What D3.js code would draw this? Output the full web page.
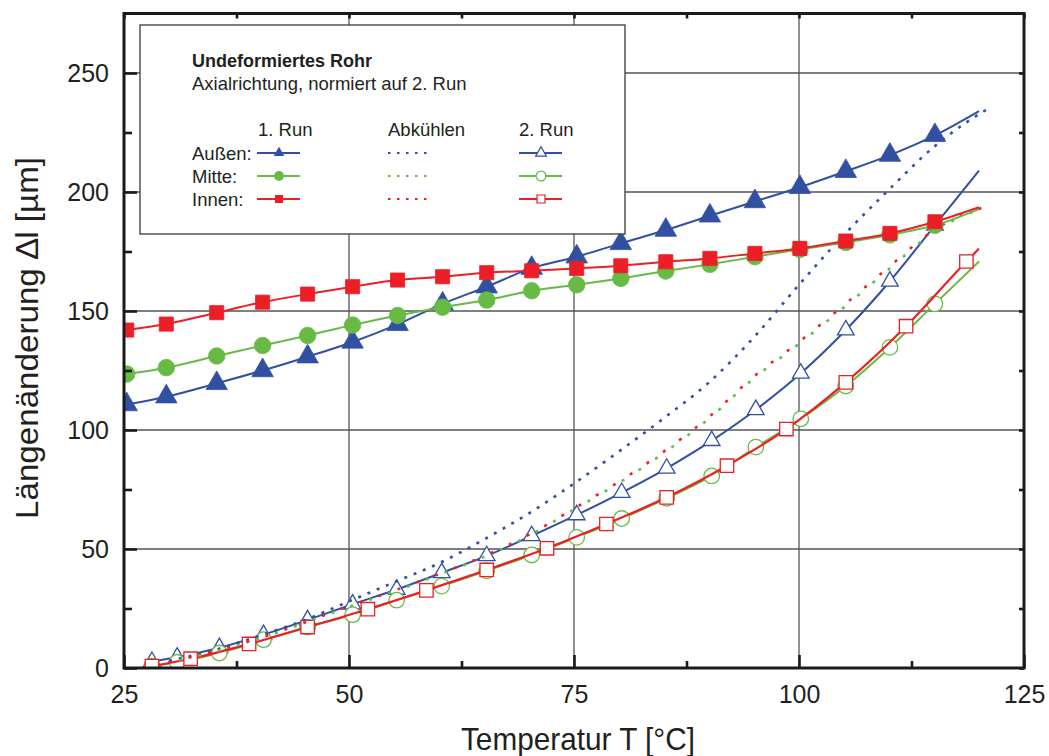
<!DOCTYPE html>
<html><head><meta charset="utf-8">
<script src="https://cdn.jsdelivr.net/npm/d3@7"></script>
<style>
body{margin:0;background:#fff}
svg{display:block}
text{font-family:"Liberation Sans",Arial,Helvetica,sans-serif;fill:#231f20}
</style>
</head><body>
<svg id="chart" width="1049" height="756"></svg>
<script>
// ---------- data ----------
// 1. Run (heating), markers at these temperatures; last point = line end (no marker)
const run1Temp   = [25.3, 29.7, 35.3, 40.4, 45.4, 50.4, 55.4, 60.4, 65.3, 70.3, 75.3, 80.2, 85.2, 90.1, 95.1, 100.1, 105.2, 110.1, 115.1, 120];
const run1Aussen = [110.7, 114.0, 119.6, 125.0, 130.8, 137.0, 144.4, 153.0, 160.2, 168.0, 172.8, 178.4, 184.0, 190.0, 196.0, 202.0, 208.7, 215.5, 223.8, 234.0];
const run1Mitte  = [123.5, 126.2, 131.1, 135.5, 139.7, 144.1, 148.1, 151.6, 154.6, 158.5, 161.0, 163.7, 166.8, 169.6, 172.8, 175.9, 178.8, 182.0, 186.0, 192.8];
const run1Innen  = [142.0, 144.5, 149.3, 153.7, 157.1, 160.2, 163.0, 164.4, 166.1, 166.9, 167.9, 169.0, 170.7, 172.1, 174.2, 176.3, 179.4, 182.6, 187.5, 193.6];

// Abkühlen (cooling), dotted, no markers
const coolTemp   = [30, 35, 40, 45, 50, 55, 60, 65, 70, 75, 80, 85, 90, 95, 100, 105, 110, 115, 118.5, 121];
const coolAussen = [3.0, 7.5, 13.5, 20.0, 28.0, 36.0, 44.0, 54.0, 65.0, 77.5, 91.0, 105.0, 120.0, 139.0, 161.0, 182.0, 201.0, 219.0, 229.0, 235.0];
const coolMitte  = [2.3, 6.8, 12.3, 18.8, 25.7, 32.2, 39.2, 46.7, 55.6, 66.6, 77.8, 90.4, 104.8, 121.8, 136.2, 151.6, 167.6, 183.2, 190.4, 193.6];
const coolInnen  = [2.5, 7.0, 12.5, 19.0, 26.0, 32.5, 39.5, 47.0, 56.0, 67.0, 78.3, 91.0, 105.5, 122.5, 137.0, 152.5, 168.5, 184.0, 191.0, 194.0];

// 2. Run (Außen & Mitte share marker temperatures; last point = line end)
const run2Temp   = [28.1, 30.9, 35.6, 40.5, 45.4, 50.4, 55.3, 60.3, 65.3, 70.3, 75.3, 80.3, 85.3, 90.3, 95.2, 100.2, 105.2, 110.1, 115.1, 120];
const run2Aussen = [2.7, 4.5, 8.5, 14.0, 20.2, 26.8, 33.0, 40.0, 47.1, 55.5, 64.3, 73.7, 83.9, 95.5, 108.5, 123.8, 142.0, 162.5, 186.0, 209.0];
const run2Mitte  = [0.8, 2.4, 6.3, 11.9, 17.2, 22.4, 28.5, 34.4, 40.8, 47.5, 54.9, 62.8, 71.3, 80.7, 92.8, 104.7, 118.5, 134.7, 153.0, 170.8];
const run2InnenTemp = [28.1, 32.4, 38.9, 45.4, 52.1, 58.6, 65.3, 72.0, 78.6, 85.3, 92.0, 98.6, 105.2, 111.9, 118.6, 120];
const run2Innen     = [0.8, 3.9, 10.1, 17.2, 24.7, 32.6, 41.2, 50.3, 60.5, 71.7, 85.0, 100.4, 120.0, 143.6, 170.8, 176.2];

// axis ticks
const xMajorTicks = [25, 50, 75, 100, 125];
const xMinorTicks = [37.5, 62.5, 87.5, 112.5];
const yMajorTicks = [0, 50, 100, 150, 200, 250];
const yMinorTicks = [25, 75, 125, 175, 225];
const xGrid = [50, 75, 100];
const yGrid = [50, 100, 150, 200, 250];

// texts
const xTitle = "Temperatur T [°C]";
const yTitle = "Längenänderung \u2206l [\u00b5m]";
const legendTitle = "Undeformiertes Rohr";
const legendSub = "Axialrichtung, normiert auf 2. Run";
const legendCols = ["1. Run", "Abkühlen", "2. Run"];
const legendRows = ["Außen:", "Mitte:", "Innen:"];

// ---------- drawing ----------
const BLUE = "#3250a2", GREEN = "#67bb45", RED = "#ec1f26";
const svg = d3.select("#chart");
const L = 124, R = 1024, T = 13.5, B = 668;
const x = d3.scaleLinear().domain([25, 125]).range([L, R]);
const y = d3.scaleLinear().domain([0, 275]).range([B, T]);

svg.append("rect").attr("width", 1049).attr("height", 756).attr("fill", "#fff");

const defs = svg.append("defs");
defs.append("clipPath").attr("id", "clip").append("rect")
  .attr("x", L).attr("y", T).attr("width", R - L).attr("height", B - T);

// grid
const grid = svg.append("g").attr("stroke", "#555").attr("stroke-width", 1.3);
grid.selectAll(".gx").data(xGrid).join("line")
  .attr("x1", d => x(d)).attr("x2", d => x(d)).attr("y1", T).attr("y2", B);
grid.selectAll(".gy").data(yGrid).join("line")
  .attr("x1", L).attr("x2", R).attr("y1", d => y(d)).attr("y2", d => y(d));

// plot content
const plot = svg.append("g").attr("clip-path", "url(#clip)");
const lineGen = d3.line().x(d => x(d[0])).y(d => y(d[1])).curve(d3.curveMonotoneX);
const zip = (a, b) => a.map((t, i) => [t, b[i]]);

function series(temps, vals, color, opt) {
  const pts = zip(temps, vals);
  const g = plot.append("g");
  const p = g.append("path").attr("d", lineGen(pts)).attr("fill", "none")
    .attr("stroke", color).attr("stroke-width", opt.width || 2);
  if (opt.dash) p.attr("stroke-dasharray", opt.dash).attr("stroke-dashoffset", opt.offset || 0);
  if (opt.symbol) {
    const marks = pts.slice(0, -1);
    g.selectAll("path.m").data(marks).join("path").attr("class", "m")
      .attr("transform", d => `translate(${x(d[0])},${y(d[1])})`)
      .attr("d", d3.symbol().type(opt.symbol).size(opt.size)())
      .attr("fill", opt.open ? "#fff" : color)
      .attr("stroke", color).attr("stroke-width", opt.open ? 1.3 : 0.8);
  }
}

// 2. Run
series(run2Temp, run2Aussen, BLUE, {symbol: d3.symbolTriangle, size: 120, open: true, width: 2});
series(run2Temp, run2Mitte, GREEN, {symbol: d3.symbolCircle, size: 190, open: true, width: 2});
series(run2InnenTemp, run2Innen, RED, {symbol: d3.symbolSquare, size: 180, open: true, width: 2.2});
// cooling
series(coolTemp, coolAussen, BLUE, {dash: "3,7", width: 2.6});
series(coolTemp, coolMitte, GREEN, {dash: "3,17", offset: 10, width: 2.6});
series(coolTemp, coolInnen, RED, {dash: "3,17", offset: 0, width: 2.6});
// 1. Run
series(run1Temp, run1Aussen, BLUE, {symbol: d3.symbolTriangle, size: 200, width: 2});
series(run1Temp, run1Mitte, GREEN, {symbol: d3.symbolCircle, size: 215, width: 2});
series(run1Temp, run1Innen, RED, {symbol: d3.symbolSquare, size: 200, width: 2});

// frame
svg.append("rect").attr("x", L).attr("y", T).attr("width", R - L).attr("height", B - T)
  .attr("fill", "none").attr("stroke", "#1a1a1a").attr("stroke-width", 3);

function styleAxis(g) {
  g.select(".domain").remove();
  g.selectAll(".tick line").attr("stroke", "#1a1a1a").attr("stroke-width", 2.6);
  g.selectAll(".tick text").attr("font-size", 25)
    .attr("font-family", '"Liberation Sans",Arial,sans-serif').attr("fill", "#231f20");
}
// left
svg.append("g").attr("transform", `translate(${L},0)`)
  .call(d3.axisLeft(y).tickValues(yMajorTicks).tickSize(-13).tickPadding(15).tickFormat(d3.format("d")))
  .call(styleAxis);
svg.append("g").attr("transform", `translate(${L},0)`)
  .call(d3.axisLeft(y).tickValues(yMinorTicks).tickSize(-8).tickFormat(""))
  .call(styleAxis);
// bottom
svg.append("g").attr("transform", `translate(0,${B})`)
  .call(d3.axisBottom(x).tickValues(xMajorTicks).tickSize(-13).tickPadding(17).tickFormat(d3.format("d")))
  .call(styleAxis);
svg.append("g").attr("transform", `translate(0,${B})`)
  .call(d3.axisBottom(x).tickValues(xMinorTicks).tickSize(-7).tickFormat(""))
  .call(styleAxis);
// right & top (short inward ticks)
svg.append("g").attr("transform", `translate(${R},0)`)
  .call(d3.axisRight(y).tickValues(yMajorTicks.concat(yMinorTicks)).tickSize(-5).tickFormat(""))
  .call(styleAxis);
svg.append("g").attr("transform", `translate(0,${T})`)
  .call(d3.axisTop(x).tickValues(xMajorTicks.concat(xMinorTicks)).tickSize(-5).tickFormat(""))
  .call(styleAxis);

// axis titles
svg.append("text").attr("x", 578).attr("y", 750).attr("text-anchor", "middle")
  .attr("font-size", 32).attr("textLength", 234).attr("lengthAdjust", "spacingAndGlyphs").text(xTitle);
svg.append("text").attr("transform", "translate(38,338) rotate(-90)").attr("text-anchor", "middle")
  .attr("font-size", 32).attr("textLength", 362).attr("lengthAdjust", "spacingAndGlyphs").text(yTitle);

// legend
const lg = svg.append("g");
lg.append("rect").attr("x", 140).attr("y", 25).attr("width", 485).attr("height", 209)
  .attr("fill", "#fff").attr("stroke", "#3a3a3a").attr("stroke-width", 1.3);
lg.append("text").attr("x", 192).attr("y", 67).attr("font-size", 18).attr("font-weight", "bold").text(legendTitle);
lg.append("text").attr("x", 192).attr("y", 90).attr("font-size", 18.5).text(legendSub);
const colX = [258, 388, 519];
legendCols.forEach((c, i) => lg.append("text").attr("x", colX[i]).attr("y", 136).attr("font-size", 18.5).text(c));
const rowY = [153, 176, 199];
const colors = [BLUE, GREEN, RED];
const syms = [d3.symbolTriangle, d3.symbolCircle, d3.symbolSquare];
const symSize = [50, 75, 64];
legendRows.forEach((r, i) => {
  lg.append("text").attr("x", 192).attr("y", rowY[i] + 7).attr("font-size", 18.5).text(r);
  // 1. Run
  lg.append("line").attr("x1", 257).attr("x2", 300).attr("y1", rowY[i]).attr("y2", rowY[i])
    .attr("stroke", colors[i]).attr("stroke-width", 2);
  lg.append("path").attr("transform", `translate(279,${rowY[i]})`)
    .attr("d", d3.symbol().type(syms[i]).size(symSize[i])()).attr("fill", colors[i]);
  // Abkühlen
  lg.append("line").attr("x1", 388).attr("x2", 429).attr("y1", rowY[i]).attr("y2", rowY[i])
    .attr("stroke", colors[i]).attr("stroke-width", 2.2).attr("stroke-dasharray", "2.5,6.5");
  // 2. Run
  lg.append("line").attr("x1", 519).attr("x2", 562).attr("y1", rowY[i]).attr("y2", rowY[i])
    .attr("stroke", colors[i]).attr("stroke-width", 2);
  lg.append("path").attr("transform", `translate(541,${rowY[i]})`)
    .attr("d", d3.symbol().type(syms[i]).size(symSize[i])()).attr("fill", "#fff")
    .attr("stroke", colors[i]).attr("stroke-width", 1.2);
});
</script>
</body></html>
